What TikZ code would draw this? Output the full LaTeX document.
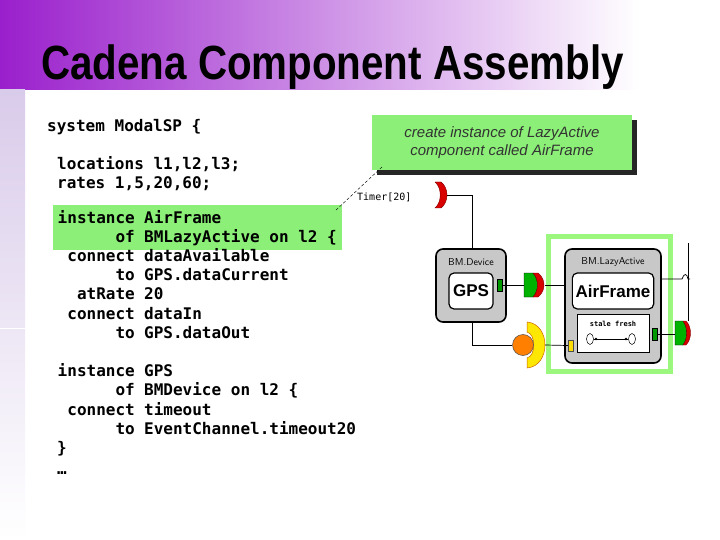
\documentclass[tikz,border=0pt]{standalone}
\usepackage{fontspec}
\usepackage{graphicx}
\setmainfont{Liberation Sans}
\newfontfamily\codefont{DejaVu Sans Mono}
\usetikzlibrary{shadows,shapes.geometric}
\definecolor{hl}{HTML}{8CF078}
\definecolor{frame}{HTML}{9CF77F}
\definecolor{boxg}{HTML}{C8C8C8}
\definecolor{purp}{HTML}{9A1FCC}
\definecolor{lav}{HTML}{D9CBEA}
\newcommand\cfnt{\codefont\bfseries\fontsize{16}{16}\selectfont}
\tikzset{
 kw/.style={anchor=base east,inner sep=0pt,font=\cfnt},
 val/.style={anchor=base west,inner sep=0pt,font=\cfnt},
 comp/.style={draw=black,line width=1.6pt,fill=boxg,rounded corners=7pt},
 inner/.style={draw=black,line width=1.2pt,fill=white,rounded corners=5pt},
 lbl/.style={inner sep=0pt,font=\fontsize{10}{10}\selectfont\sffamily},
 wire/.style={draw=black,line width=0.7pt},
 gport/.style={draw=black,line width=0.5pt,fill=green!60!black},
}
\begin{document}
\begin{tikzpicture}[x=1pt,y=-1pt]
\useasboundingbox (0,0) rectangle (720,540);
\fill[white] (0,0) rectangle (720,540);
\shade[left color=purp,right color=white] (0,0) rectangle (640,90);
\fill[white] (640,0) rectangle (720,90);
\shade[top color=lav,bottom color=white] (0,90) rectangle (25,540);
\draw[white,line width=0.6pt] (0,328) -- (25,328);
\node[anchor=base west,inner sep=0pt,font=\bfseries\fontsize{48}{48}\selectfont] (title) at (41,80) {\scalebox{0.84}[1]{Cadena Component Assembly}};
% highlight
\fill[hl] (53,205) rectangle (342,250);
% code
\node[val] (c0) at (47,132) {system ModalSP \{};
\node[val] (c1) at (57,170) {locations l1,l2,l3;};
\node[val] (c2) at (57,189) {rates 1,5,20,60;};
\foreach \k/\v/\y [count=\i] in {instance/AirFrame/223, of/{BMLazyActive on l2 \{}/242, connect/dataAvailable/261, to/GPS.dataCurrent/280, atRate/20/299, connect/dataIn/319, to/GPS.dataOut/338, instance/GPS/376, of/{BMDevice on l2 \{}/395, connect/timeout/415, to/EventChannel.timeout20/434}{
 \node[kw] (k\i) at (135,\y) {\k};
 \node[val] (v\i) at (144,\y) {\v};
}
\node[val] (c3) at (57,453) {\}};
\node[val] (c4) at (57,474) {…};
% callout
\node[fill=hl,minimum width=260pt,minimum height=55pt,inner sep=0pt,align=center,
 font=\itshape\fontsize{15}{18}\selectfont\color{black!80},
 drop shadow={shadow xshift=5pt,shadow yshift=-5pt,fill=black!85,opacity=1}] (call) at (502,142.5) {create instance of LazyActive\\component called AirFrame};
\coordinate (d1) at (382,167);
\coordinate (d2) at (336,210);
\draw[dashed,line width=0.4pt,dash pattern=on 3pt off 2pt] (d1) -- (d2);
\node[anchor=base west,inner sep=0pt,font=\codefont\fontsize{10}{10}\selectfont] (timer) at (357,201) {Timer[20]};
% green frame
\draw[frame,line width=5pt] (548.5,236.5) rectangle (670.5,371.5);
% timer bracket
\fill[red!85!black,draw=red!50!black,line width=0.4pt] (435,182) -- (441,182) .. controls (449,188) and (449,202) .. (441,208) -- (435,208) .. controls (442,202) and (442,188) .. (435,182);
\coordinate (t1) at (472,195);
% BM.Device
\node[comp,minimum width=70pt,minimum height=73pt] (dev) at (471,285.5) {};
\node[lbl] (devl) at (471,262) {BM.Device};
\node[inner,minimum width=44pt,minimum height=36pt,font=\bfseries\fontsize{17}{17}\selectfont] (gps) at (471,291) {GPS};
\node[gport,minimum width=5pt,minimum height=12pt,inner sep=0pt] (gp) at (499.5,285) {};
% BM.LazyActive
\node[comp,minimum width=96pt,minimum height=114pt] (lazy) at (613,306) {};
\node[lbl] (lazyl) at (613,262) {BM.LazyActive};
\node[inner,minimum width=70pt,minimum height=36pt,font=\bfseries\fontsize{17}{17}\selectfont] (air) at (613,291) {AirFrame};
\node[draw=black,line width=0.8pt,fill=white,minimum width=72pt,minimum height=38pt,inner sep=0pt] (sf) at (613,333) {};
\node[inner sep=0pt,font=\codefont\bfseries\fontsize{7}{7}\selectfont] (sft) at (613,324) {stale fresh};
\node[draw,ellipse,minimum width=7pt,minimum height=11pt,inner sep=0pt,line width=0.5pt] (e1) at (590,339) {};
\node[draw,ellipse,minimum width=7pt,minimum height=11pt,inner sep=0pt,line width=0.5pt] (e2) at (632,339) {};
\draw[line width=0.5pt] (e1) -- (e2);
\fill (596,339) circle (1.3pt) (626,339) circle (1.3pt);
\node[gport,minimum width=5pt,minimum height=12pt,inner sep=0pt] (lp) at (654.5,334) {};
\node[draw=black!70,line width=0.5pt,fill=yellow!80!orange,minimum width=5pt,minimum height=11pt,inner sep=0pt] (yp) at (570.5,345.5) {};
% socket between GPS and Lazy
\fill[green!70!black,draw=black,line width=0.4pt] (524,273) -- (533,273) .. controls (539,279) and (539,291) .. (533,297) -- (524,297) -- cycle;
\fill[red!85!black,draw=red!50!black,line width=0.4pt] (533,273) -- (538,273) .. controls (546,279) and (546,291) .. (538,297) -- (533,297) .. controls (539,291) and (539,279) .. (533,273);
\coordinate (s1) at (524,285);
\coordinate (s2) at (545,285);
% event sink
\fill[yellow!90!orange,draw=orange!80!black,line width=0.5pt] (527,322) .. controls (551,324) and (551,366) .. (527,368) -- (527,358) .. controls (536,356) and (536,334) .. (527,332) -- cycle;
\node[circle,fill=orange,draw=black!70,line width=0.5pt,minimum size=21pt,inner sep=0pt] (orb) at (523,345) {};
\coordinate (o2) at (545,345);
% right socket
\fill[green!70!black,draw=black,line width=0.4pt] (675,321) -- (683,321) .. controls (688,327) and (688,339) .. (683,345) -- (675,345) -- cycle;
\fill[red!85!black,draw=red!50!black,line width=0.4pt] (683,321) -- (686,321) .. controls (692,327) and (692,339) .. (686,345) -- (683,345) .. controls (688,339) and (688,327) .. (683,321);
\coordinate (r1) at (675,334);
\coordinate (rtop) at (688,243);
\coordinate (rbot) at (688,321);
\coordinate (w0) at (661,279);
\coordinate (w1) at (682,279);
% wires
\draw[wire] (447,195) -- (t1) -- (dev.north -| t1);
\draw[wire] (gp.east) -- (s1);
\draw[wire] (s2) -- (lazy.west |- s2);
\draw[wire] (dev.south -| t1) |- (orb.west);
\draw[wire] (o2) -- (yp.west);
\draw[wire] (lp.east) -- (r1);
\draw[wire] (rtop) -- (rbot);
\draw[wire] (w0) -- (w1) .. controls (684,273) and (687,273) .. (688,279) -- (690,279);
\end{tikzpicture}
\end{document}
